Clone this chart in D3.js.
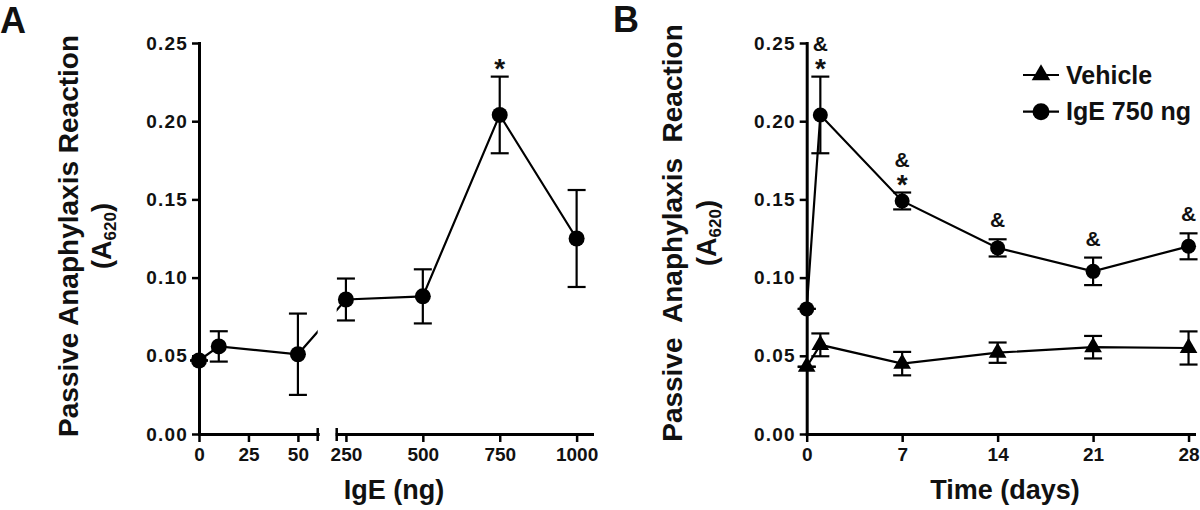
<!DOCTYPE html>
<html><head><meta charset="utf-8">
<script src="https://cdn.jsdelivr.net/npm/d3@7"></script>
<style>
body{margin:0;background:#fff}
svg{display:block;background:#fff}
text{font-family:"Liberation Sans",Arial,sans-serif;font-weight:bold;fill:#111}
</style>
</head><body><svg id="c" width="1200" height="510"></svg>
<script>
// ---------- DATA ----------
// Panel A: IgE dose response
const doseA = [0, 10, 50, 250, 500, 750, 1000];
const meanA = [0.047, 0.056, 0.051, 0.086, 0.088, 0.204, 0.125];
const semA  = [0, 0.0097, 0.026, 0.0134, 0.0173, 0.0245, 0.031];
const xTicksA1 = [0, 25, 50];
const xTicksA2 = [250, 500, 750, 1000];
const yTicks = [0, 0.05, 0.10, 0.15, 0.20, 0.25];
const annotDoseA = [750];
const annotMarkA = ["*"];

// Panel B: time course
const daysB = [0, 1, 7, 14, 21, 28];
const vehMean = [0.043, 0.057, 0.045, 0.052, 0.0555, 0.055];
const vehSem  = [0, 0.0073, 0.0075, 0.0065, 0.0072, 0.0106];
const igeMean = [0.080, 0.204, 0.149, 0.119, 0.104, 0.120];
const igeSem  = [0, 0.0245, 0.0054, 0.0055, 0.0088, 0.0083];
const xTicksB = [0, 7, 14, 21, 28];
const seriesNames = ["Vehicle", "IgE 750 ng"];
const annotDaysB = [1, 7, 14, 21, 28];
const annotMarksB = ["&*", "&*", "&", "&", "&"];

// ---------- DRAW ----------
const svg = d3.select("#c");
const y = d3.scaleLinear().domain([0, 0.25]).range([434, 43]);
const FONT_TICK = 19;

function styleAxis(g, ls) {
  g.attr("font-family", null).attr("font-size", null);
  g.select(".domain").attr("stroke", "#000").attr("stroke-width", 3).attr("stroke-linecap", "square");
  g.selectAll(".tick line").attr("stroke", "#000").attr("stroke-width", 2.5);
  g.selectAll(".tick text").style("font-size", FONT_TICK + "px").attr("fill", "#111")
    .style("letter-spacing", ls ? ls + "px" : null);
}
function yAxisAt(x0) {
  const g = svg.append("g").attr("transform", `translate(${x0},0)`)
    .call(d3.axisLeft(y).tickValues(yTicks).tickFormat(d3.format(".2f"))
      .tickSize(7).tickSizeOuter(0).tickPadding(4));
  styleAxis(g, 1.2);
}
function xAxis(scale, ticks) {
  const g = svg.append("g").attr("transform", `translate(0,${y(0)})`)
    .call(d3.axisBottom(scale).tickValues(ticks).tickFormat(d3.format("d"))
      .tickSize(8).tickSizeOuter(0).tickPadding(6));
  styleAxis(g, 0);
}
function errBars(sel, xs, ms, ss, xf, capW) {
  xs.forEach((xv, i) => {
    const cx = xf(xv), t = y(ms[i] + ss[i]), b = y(ms[i] - ss[i]);
    sel.append("line").attr("x1", cx).attr("x2", cx).attr("y1", t).attr("y2", b);
    sel.append("line").attr("x1", cx - capW).attr("x2", cx + capW).attr("y1", t).attr("y2", t);
    sel.append("line").attr("x1", cx - capW).attr("x2", cx + capW).attr("y1", b).attr("y2", b);
  });
  sel.attr("stroke", "#000").attr("stroke-width", 2.2);
}
function yTitle(xMain, xSub, cy, main) {
  svg.append("text").attr("transform", `translate(${xMain},${cy}) rotate(-90)`)
    .attr("text-anchor", "middle").style("font-size", "28px").style("white-space", "pre").text(main);
  const t = svg.append("text").attr("transform", `translate(${xSub},${cy}) rotate(-90)`)
    .attr("text-anchor", "middle").style("font-size", "27px");
  t.append("tspan").text("(A");
  t.append("tspan").style("font-size", "17px").attr("dy", 5).text("620");
  t.append("tspan").attr("dy", -5).text(")");
}
function annot(x, errTop, marks) {
  const hasStar = marks.includes("*");
  if (hasStar) {
    svg.append("text").attr("x", x).attr("y", errTop + 1).attr("text-anchor", "middle")
      .style("font-size", "28px").text("*");
  }
  if (marks.includes("&")) {
    const base = hasStar ? errTop - 26 : errTop - 12;
    svg.append("text").attr("x", x).attr("y", base).attr("text-anchor", "middle")
      .style("font-size", "21px").text("&");
  }
}

// ===== Panel A =====
const xA1 = d3.scaleLinear().domain([0, 60]).range([199, 317.7]);
const xA2 = d3.scaleLinear().domain([220, 1050]).range([336.7, 592]);
const xA = v => v <= 60 ? xA1(v) : xA2(v);

svg.append("text").attr("x", 0).attr("y", 33).style("font-size", "36px").text("A");

const clip = svg.append("defs").append("clipPath").attr("id", "clipA");
clip.append("rect").attr("x", 0).attr("y", 0).attr("width", xA1.range()[1]).attr("height", 510);
clip.append("rect").attr("x", xA2.range()[0]).attr("y", 0).attr("width", 600 - xA2.range()[0]).attr("height", 510);

errBars(svg.append("g"), doseA, meanA, semA, xA, 9);
svg.append("path").attr("clip-path", "url(#clipA)")
  .attr("d", d3.line().x((d, i) => xA(doseA[i])).y(d => y(d))(meanA))
  .attr("fill", "none").attr("stroke", "#000").attr("stroke-width", 2.2);

xAxis(xA1, xTicksA1);
xAxis(xA2, xTicksA2);
yAxisAt(199);
[xA1.range()[1], xA2.range()[0]].forEach(bx => {
  svg.append("line").attr("x1", bx).attr("x2", bx).attr("y1", y(0) - 6).attr("y2", y(0) + 7)
    .attr("stroke", "#000").attr("stroke-width", 2.5);
});

svg.append("g").selectAll("circle").data(meanA).join("circle")
  .attr("cx", (d, i) => xA(doseA[i])).attr("cy", d => y(d)).attr("r", 8).attr("fill", "#000");

annotDoseA.forEach((dv, k) => {
  const i = doseA.indexOf(dv);
  annot(xA(dv), y(meanA[i] + semA[i]), annotMarkA[k]);
});

yTitle(78, 111, 236, "Passive Anaphylaxis Reaction");
svg.append("text").attr("x", 394).attr("y", 499).attr("text-anchor", "middle")
  .style("font-size", "27px").text("IgE (ng)");

// ===== Panel B =====
const xB = d3.scaleLinear().domain([0, 28.4]).range([806.7, 1194]);
svg.append("text").attr("x", 613).attr("y", 32).style("font-size", "36px").text("B");

errBars(svg.append("g"), daysB, vehMean, vehSem, xB, 9);
errBars(svg.append("g"), daysB, igeMean, igeSem, xB, 9);
const lineB = d3.line().x((d, i) => xB(daysB[i])).y(d => y(d));
[vehMean, igeMean].forEach(m => {
  svg.append("path").attr("d", lineB(m)).attr("fill", "none").attr("stroke", "#000").attr("stroke-width", 2.2);
});

xAxis(xB, xTicksB);
yAxisAt(806.7);

const tri = d3.symbol(d3.symbolTriangle).size(135);
svg.append("g").selectAll("path").data(vehMean).join("path")
  .attr("transform", (d, i) => `translate(${xB(daysB[i])},${y(d)})`).attr("d", tri()).attr("fill", "#000");
svg.append("g").selectAll("circle").data(igeMean).join("circle")
  .attr("cx", (d, i) => xB(daysB[i])).attr("cy", d => y(d)).attr("r", 7.5).attr("fill", "#000");

annotDaysB.forEach((dv, k) => {
  const i = daysB.indexOf(dv);
  annot(xB(dv), y(igeMean[i] + igeSem[i]), annotMarksB[k]);
});

yTitle(682, 716, 233, "Passive  Anaphylaxis  Reaction");
svg.append("text").attr("x", 1005).attr("y", 499).attr("text-anchor", "middle")
  .style("font-size", "27px").text("Time (days)");

// Legend
const legY = [75, 111.7];
seriesNames.forEach((name, k) => {
  const g = svg.append("g").attr("transform", `translate(1041,${legY[k]})`);
  g.append("line").attr("x1", -18).attr("x2", 18).attr("stroke", "#000").attr("stroke-width", 2.2);
  if (k === 0) g.append("path").attr("d", d3.symbol(d3.symbolTriangle).size(150)()).attr("fill", "#000");
  else g.append("circle").attr("r", 8.5).attr("fill", "#000");
  g.append("text").attr("x", 25).attr("y", 8.5).style("font-size", "25px").text(name);
});
</script>
</body></html>
